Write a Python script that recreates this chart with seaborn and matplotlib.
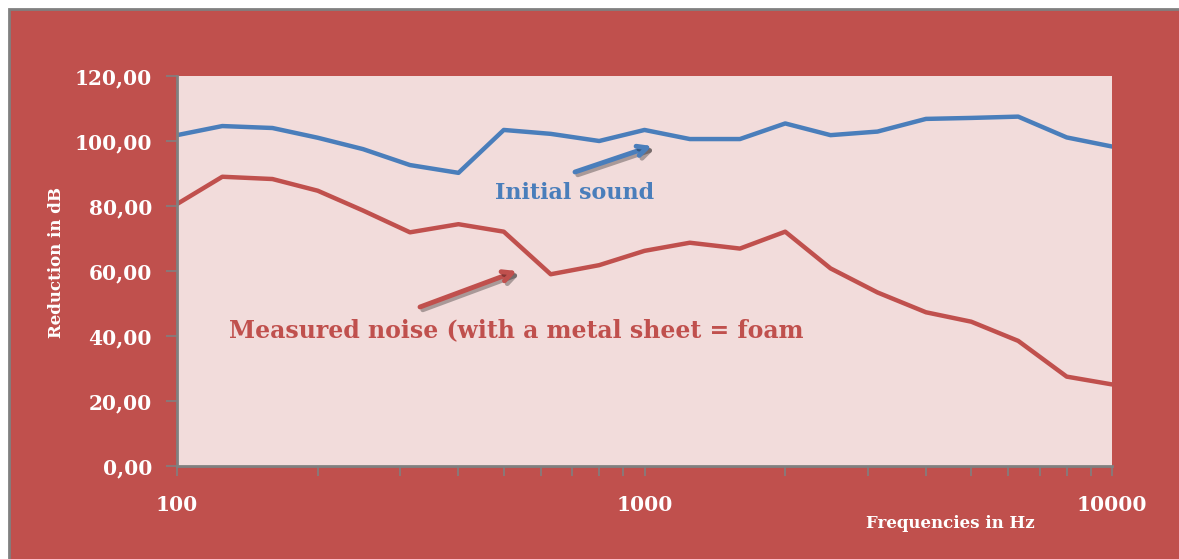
import numpy as np
import pandas as pd
import matplotlib
matplotlib.use("Agg")
from matplotlib import pyplot as plt
from matplotlib import patheffects as pe
from matplotlib.patches import Rectangle
from matplotlib.ticker import FuncFormatter, LogLocator, NullFormatter
import seaborn as sns

# third-octave band centre frequencies (Hz)
freqs = [100, 125, 160, 200, 250, 315, 400, 500, 630, 800, 1000,
         1250, 1600, 2000, 2500, 3150, 4000, 5000, 6300, 8000, 10000]
initial_sound = [101.8, 104.6, 104.0, 101.0, 97.5, 92.6, 90.2, 103.4, 102.2, 100.0, 103.4,
                 100.6, 100.6, 105.4, 101.8, 102.9, 106.8, 107.1, 107.5, 101.1, 98.3]
measured_noise = [80.6, 89.0, 88.3, 84.7, 78.6, 71.9, 74.4, 72.1, 59.0, 61.8, 66.2,
                  68.7, 66.9, 72.1, 60.8, 53.4, 47.3, 44.4, 38.5, 27.5, 25.1]
y_ticks = [0, 20, 40, 60, 80, 100, 120]
x_ticks = [100, 1000, 10000]

bg_red = "#C0504D"
plot_bg = "#F2DCDB"
blue = "#4A7EBB"
red = "#C0504D"
grey = "#808080"

W, H = 1179, 559


def fig_xy(px, py):
    # pixel position measured from the top-left corner -> figure fraction
    return (px / W, 1 - py / H)


df = pd.DataFrame({
    "freq": freqs * 2,
    "dB": initial_sound + measured_noise,
    "series": ["Initial sound"] * len(freqs) + ["Measured noise"] * len(freqs),
})

sns.set_style("white")
plt.rcParams["font.family"] = ["DejaVu Serif"]

fig = plt.figure(figsize=(W / 100, H / 100), dpi=100, facecolor="white")
fig.patches.append(Rectangle((8.5 / W, -0.01), 1.0, 1 - 8.5 / H + 0.01,
                             transform=fig.transFigure, facecolor=bg_red,
                             edgecolor=grey, linewidth=2, zorder=-1))

ax = fig.add_axes([177 / W, 93 / H, 935 / W, 390 / H])
ax.set_facecolor(plot_bg)

sns.lineplot(data=df, x="freq", y="dB", hue="series",
             palette={"Initial sound": blue, "Measured noise": red},
             linewidth=3.2, legend=False, ax=ax)

ax.set_xscale("log")
ax.set_xlim(100, 10000)
ax.set_ylim(0, 120)
ax.set_yticks(y_ticks)
ax.yaxis.set_major_formatter(FuncFormatter(lambda v, p: f"{v:.2f}".replace(".", ",")))
ax.set_xticks(x_ticks)
ax.xaxis.set_major_formatter(FuncFormatter(lambda v, p: f"{int(v)}"))
ax.xaxis.set_minor_locator(LogLocator(base=10, subs=np.arange(2, 10)))
ax.xaxis.set_minor_formatter(NullFormatter())

for s in ["top", "right"]:
    ax.spines[s].set_visible(False)
for s in ["left", "bottom"]:
    ax.spines[s].set_color(grey)
    ax.spines[s].set_linewidth(2)

ax.tick_params(axis="y", which="major", length=8, width=1.2, color=grey,
               labelsize=14.5, labelcolor="white", pad=10, left=True)
ax.tick_params(axis="x", which="both", length=7, width=1.2, color=grey,
               labelsize=14.5, labelcolor="white", pad=14, bottom=True)
for lab in ax.get_xticklabels() + ax.get_yticklabels():
    lab.set_fontweight("bold")

ax.set_xlabel("")
ax.set_ylabel("")
fig.text(*fig_xy(950, 524), "Frequencies in Hz", color="white",
         fontsize=12, fontweight="bold", ha="center", va="center")
fig.text(*fig_xy(57, 262), "Reduction in dB", color="white",
         fontsize=12, fontweight="bold", ha="center", va="center", rotation=90)

shadow = [pe.SimpleLineShadow(offset=(2, -2), shadow_color="black", alpha=0.3), pe.Normal()]
ax.annotate("", xy=fig_xy(652, 146), xytext=fig_xy(575, 172),
            xycoords="figure fraction", textcoords="figure fraction",
            arrowprops=dict(arrowstyle="->,head_length=0.7,head_width=0.35",
                            color=blue, lw=3.5, shrinkA=0, shrinkB=0,
                            path_effects=shadow))
ax.annotate("", xy=fig_xy(517, 271), xytext=fig_xy(420, 307),
            xycoords="figure fraction", textcoords="figure fraction",
            arrowprops=dict(arrowstyle="->,head_length=0.7,head_width=0.35",
                            color=red, lw=3.5, shrinkA=0, shrinkB=0,
                            path_effects=shadow))

fig.text(*fig_xy(575, 193), "Initial sound",
         color=blue, fontsize=16, fontweight="bold", ha="center", va="center")
fig.text(*fig_xy(229, 330), "Measured noise (with a metal sheet = foam",
         color=red, fontsize=17, fontweight="bold", ha="left", va="center")

fig.savefig("out.png", dpi=100, facecolor=fig.get_facecolor())
